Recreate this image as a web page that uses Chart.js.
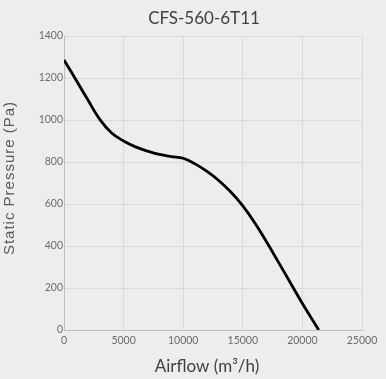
<!DOCTYPE html>
<html>
<head>
<meta charset="utf-8">
<script src="https://cdn.jsdelivr.net/npm/chart.js@4"></script>
<style>
  html, body { margin: 0; padding: 0; background: #ededee; }
  #wrap { width: 386px; height: 379px; }
</style>
</head>
<body>
<div id="wrap"><canvas id="fanChart" width="386" height="379"></canvas></div>
<script>
// fan curve
const airflow = [0, 1000, 2000, 3000, 4000, 5000, 6000, 7000, 8000, 9000, 10000,
    11000, 12000, 13000, 14000, 15000, 16000, 17000, 18000, 19000, 20000, 21370];
const pressure = [1286, 1192, 1096, 1003, 938, 900, 872, 852, 836, 826, 818,
    791, 755, 711, 657, 591, 511, 419, 322, 224, 126, 0];

const xTicks = [0, 5000, 10000, 15000, 20000, 25000];
const yTicks = [0, 200, 400, 600, 800, 1000, 1200, 1400];

const points = airflow.map((a, i) => ({ x: a, y: pressure[i] }));

// background + small placement tweaks (title over the plot, spaced y title)
const tweakPlugin = {
    id: 'tweak',
    beforeDraw(chart) {
        const ctx = chart.ctx;
        ctx.save();
        ctx.fillStyle = '#ededee';
        ctx.fillRect(0, 0, chart.width, chart.height);
        ctx.restore();
    },
    afterLayout(chart) {
        chart.titleBlock.left = 46;
        chart.titleBlock.right = 362;
        const ys = chart.scales.y;
        if (!ys._patched) {
            const orig = ys.drawTitle;
            ys.drawTitle = function() {
                this.ctx.save();
                this.ctx.letterSpacing = '1px';
                this.ctx.translate(0, -5);
                orig.call(this);
                this.ctx.restore();
            };
            ys._patched = true;
        }
        const xs = chart.scales.x;
        if (!xs._patched) {
            const origX = xs.drawTitle;
            xs.drawTitle = function() {
                this.ctx.save();
                this.ctx.translate(-6, 0);
                origX.call(this);
                this.ctx.restore();
            };
            xs._patched = true;
        }
    }
};

const ctx = document.getElementById('fanChart').getContext('2d');
const fanChart = new Chart(ctx, {
    type: 'line',
    data: {
        datasets: [{
            label: 'CFS-560-6T11',
            data: points,
            borderColor: '#000000',
            borderWidth: 2.8,
            pointRadius: 0,
            fill: false,
            tension: 0.4
        }]
    },
    options: {
        responsive: false,
        animation: false,
        layout: { padding: { left: 0, right: 24, top: 0, bottom: 0 } },
        plugins: {
            legend: { display: false },
            tooltip: { enabled: false },
            title: {
                display: true,
                text: 'CFS-560-6T11',
                color: '#404040',
                font: { family: 'Lato', size: 17, weight: 'normal' },
                padding: { top: 8, bottom: 7.6 }
            }
        },
        scales: {
            x: {
                type: 'linear',
                min: 0,
                max: 25000,
                afterBuildTicks: axis => { axis.ticks = xTicks.map(v => ({ value: v })); },
                afterFit: axis => { axis.height = 49; },
                grid: { color: '#d9d9d9', drawTicks: false },
                border: { color: '#bfbfbf' },
                ticks: {
                    color: '#6b6b6b',
                    padding: 4,
                    font: { family: 'Lato', size: 10.5 },
                    maxRotation: 0,
                    callback: v => String(v)
                },
                title: {
                    display: true,
                    text: 'Airflow (m³/h)',
                    color: '#404040',
                    font: { family: 'Lato', size: 17 },
                    padding: { top: 0, bottom: 2 }
                }
            },
            y: {
                min: 0,
                max: 1400,
                afterBuildTicks: axis => { axis.ticks = yTicks.map(v => ({ value: v })); },
                afterFit: axis => { axis.width = 64; },
                grid: { color: '#d9d9d9', drawTicks: false },
                border: { color: '#bfbfbf' },
                ticks: {
                    color: '#6b6b6b',
                    padding: 1,
                    font: { family: 'Lato', size: 10.5 },
                    callback: v => String(v)
                },
                title: {
                    display: true,
                    text: 'Static Pressure (Pa)',
                    color: '#595959',
                    font: { family: 'Liberation Sans', size: 15 },
                    padding: { top: 1, bottom: 0 }
                }
            }
        }
    },
    plugins: [tweakPlugin]
});
</script>
</body>
</html>
